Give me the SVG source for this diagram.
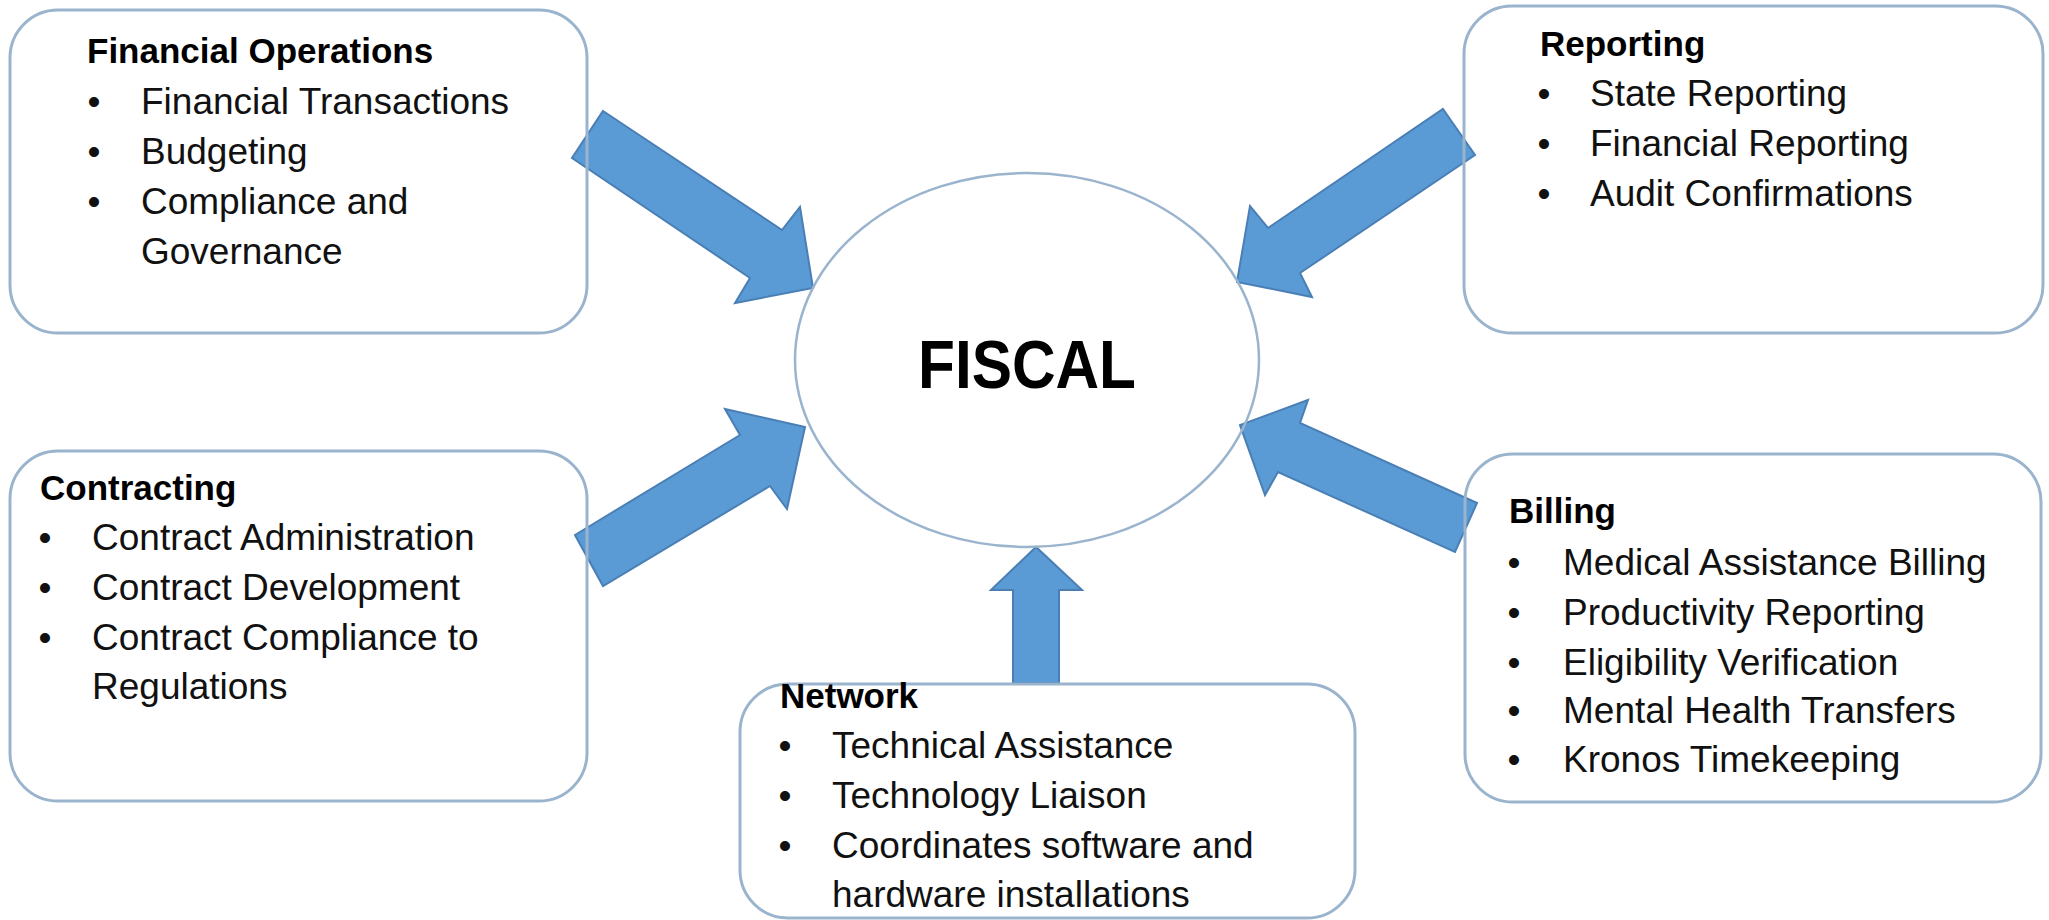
<svg xmlns="http://www.w3.org/2000/svg" width="2049" height="920" viewBox="0 0 2049 920">
<style>
.box{fill:none;stroke:#9BB4CE;stroke-width:3}
.ell{fill:none;stroke:#9BB4CE;stroke-width:2.5}
.arr{fill:#5B9BD5;stroke:#4A7FB5;stroke-width:2;stroke-linejoin:miter}
.h{font-family:"Liberation Sans",Arial,sans-serif;font-weight:bold;font-size:35px;fill:#000}
.t{font-family:"Liberation Sans",Arial,sans-serif;font-size:37px;fill:#111}
.b{font-family:"Liberation Sans",Arial,sans-serif;font-size:37px;fill:#111;text-anchor:middle}
.c{font-family:"Liberation Sans",Arial,sans-serif;font-weight:bold;font-size:68px;fill:#000;text-anchor:middle}
</style>
<rect width="2049" height="920" fill="#fff"/>
<g id="connectors">
<polygon class="arr" points="603,111 782,230 800,207 813,288 735,303 750,278 572,158"/>
<polygon class="arr" points="1443,109 1475,155 1300,273 1312,297 1237,282 1250,206 1268,228"/>
<polygon class="arr" points="575,535 740,435 725,409 805,427 787,509 770,486 603,586"/>
<polygon class="arr" points="1477,503 1300,423 1308,400 1240,425 1265,495 1278,472 1455,552"/>
<polygon class="arr" points="1013,683 1013,590 991,590 1036,547 1082,590 1059,590 1059,683"/>
</g>
<g id="fiscal">
<ellipse class="ell" cx="1027" cy="360" rx="232" ry="187"/>
<text class="c" x="1027" y="388" textLength="218" lengthAdjust="spacingAndGlyphs">FISCAL</text>
</g>
<g id="financial-operations">
<rect class="box" x="10" y="10" width="577" height="323" rx="48" ry="48"/>
<text class="h" x="87" y="63">Financial Operations</text>
<text class="b" x="94" y="114">•</text><text class="t" x="141" y="114">Financial Transactions</text>
<text class="b" x="94" y="164">•</text><text class="t" x="141" y="164">Budgeting</text>
<text class="b" x="94" y="214">•</text><text class="t" x="141" y="214">Compliance and</text>
<text class="t" x="141" y="264">Governance</text>
</g>
<g id="reporting">
<rect class="box" x="1464" y="6" width="579" height="327" rx="48" ry="48"/>
<text class="h" x="1540" y="56">Reporting</text>
<text class="b" x="1544" y="106">•</text><text class="t" x="1590" y="106">State Reporting</text>
<text class="b" x="1544" y="156">•</text><text class="t" x="1590" y="156">Financial Reporting</text>
<text class="b" x="1544" y="206">•</text><text class="t" x="1590" y="206">Audit Confirmations</text>
</g>
<g id="contracting">
<rect class="box" x="10" y="451" width="577" height="350" rx="48" ry="48"/>
<text class="h" x="40" y="500">Contracting</text>
<text class="b" x="45" y="550">•</text><text class="t" x="92" y="550">Contract Administration</text>
<text class="b" x="45" y="600">•</text><text class="t" x="92" y="600">Contract Development</text>
<text class="b" x="45" y="650">•</text><text class="t" x="92" y="650">Contract Compliance to</text>
<text class="t" x="92" y="699">Regulations</text>
</g>
<g id="billing">
<rect class="box" x="1465" y="454" width="576" height="348" rx="48" ry="48"/>
<text class="h" x="1509" y="523">Billing</text>
<text class="b" x="1514" y="575">•</text><text class="t" x="1563" y="575">Medical Assistance Billing</text>
<text class="b" x="1514" y="625">•</text><text class="t" x="1563" y="625">Productivity Reporting</text>
<text class="b" x="1514" y="675">•</text><text class="t" x="1563" y="675">Eligibility Verification</text>
<text class="b" x="1514" y="723">•</text><text class="t" x="1563" y="723">Mental Health Transfers</text>
<text class="b" x="1514" y="772">•</text><text class="t" x="1563" y="772">Kronos Timekeeping</text>
</g>
<g id="network">
<rect class="box" x="740" y="684" width="615" height="234" rx="48" ry="48"/>
<text class="h" x="780" y="708">Network</text>
<text class="b" x="785" y="758">•</text><text class="t" x="832" y="758">Technical Assistance</text>
<text class="b" x="785" y="808">•</text><text class="t" x="832" y="808">Technology Liaison</text>
<text class="b" x="785" y="858">•</text><text class="t" x="832" y="858">Coordinates software and</text>
<text class="t" x="832" y="907">hardware installations</text>
</g>
</svg>
